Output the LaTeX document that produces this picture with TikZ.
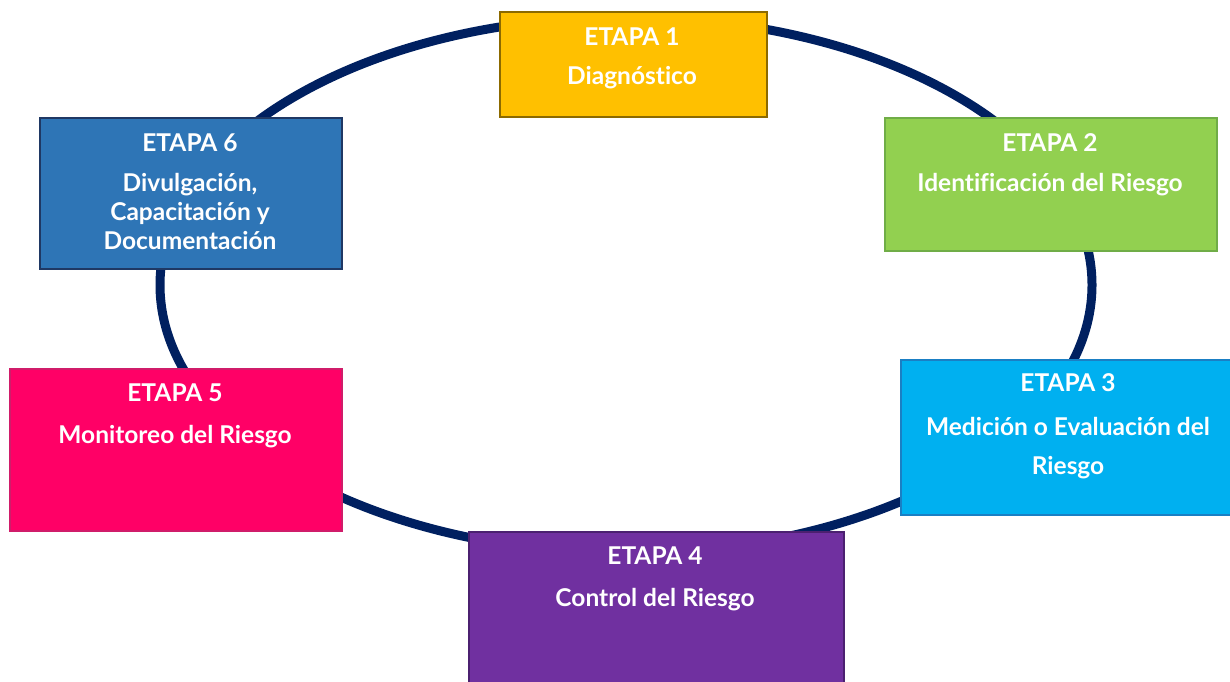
\documentclass[tikz,border=0pt]{standalone}
\usepackage{fontspec}
\setmainfont{Lato}[Ligatures={NoCommon}]
\definecolor{navy}{HTML}{002060}
\definecolor{cA}{HTML}{FFC000}\definecolor{bA}{HTML}{8C6A00}
\definecolor{cB}{HTML}{92D050}\definecolor{bB}{HTML}{70AD47}
\definecolor{cC}{HTML}{00B0F0}\definecolor{bC}{HTML}{1A7FC4}
\definecolor{cD}{HTML}{7030A0}\definecolor{bD}{HTML}{4B2070}
\definecolor{cE}{HTML}{2E75B6}\definecolor{bE}{HTML}{1F3864}
\definecolor{cF}{HTML}{FF0066}\definecolor{bF}{HTML}{D01C6A}
\begin{document}
\begin{tikzpicture}[x=1pt,y=-1pt,
  stagebox/.style={draw, line width=1.5pt, anchor=north west, inner sep=0pt},
  lbl/.style={text=white, font=\fontsize{24.5}{28}\selectfont\bfseries, inner sep=0pt, align=center}]
\useasboundingbox (0,0) rectangle (1230,681);
\draw[navy, line width=9pt] (626,285) ellipse [x radius=466, y radius=268];
\node[stagebox, fill=cA, draw=bA, minimum width=267pt, minimum height=105pt] (b1) at (499,11) {};
\node[stagebox, fill=cB, draw=bB, minimum width=332pt, minimum height=133pt] (b2) at (884,117) {};
\node[stagebox, fill=cC, draw=bC, minimum width=332pt, minimum height=155pt] (b3) at (900,359) {};
\node[stagebox, fill=cD, draw=bD, minimum width=375pt, minimum height=155pt] (b4) at (468,531) {};
\node[stagebox, fill=cF, draw=bF, minimum width=332pt, minimum height=162pt] (b5) at (9,368) {};
\node[stagebox, fill=cE, draw=bE, minimum width=302pt, minimum height=151pt] (b6) at (39,117) {};
\node[lbl] (t1a) at (632,37) {ETAPA 1};
\node[lbl] (t1b) at (632,78) {Diagnóstico};
\node[lbl] (t2a) at (1050,143) {ETAPA 2};
\node[lbl] (t2b) at (1050,185) {Identificación del Riesgo};
\node[lbl] (t3a) at (1068,383) {ETAPA 3};
\node[lbl] (t3b) at (1068,426) {Medición o Evaluación del};
\node[lbl] (t3c) at (1068,468) {Riesgo};
\node[lbl] (t4a) at (655,556) {ETAPA 4};
\node[lbl] (t4b) at (655,600) {Control del Riesgo};
\node[lbl] (t5a) at (175,393) {ETAPA 5};
\node[lbl] (t5b) at (175,437) {Monitoreo del Riesgo};
\node[lbl] (t6a) at (190,143) {ETAPA 6};
\node[lbl] (t6b) at (190,185) {Divulgación,};
\node[lbl] (t6c) at (190,213) {Capacitación y};
\node[lbl] (t6d) at (190,241) {Documentación};
\end{tikzpicture}
\end{document}
